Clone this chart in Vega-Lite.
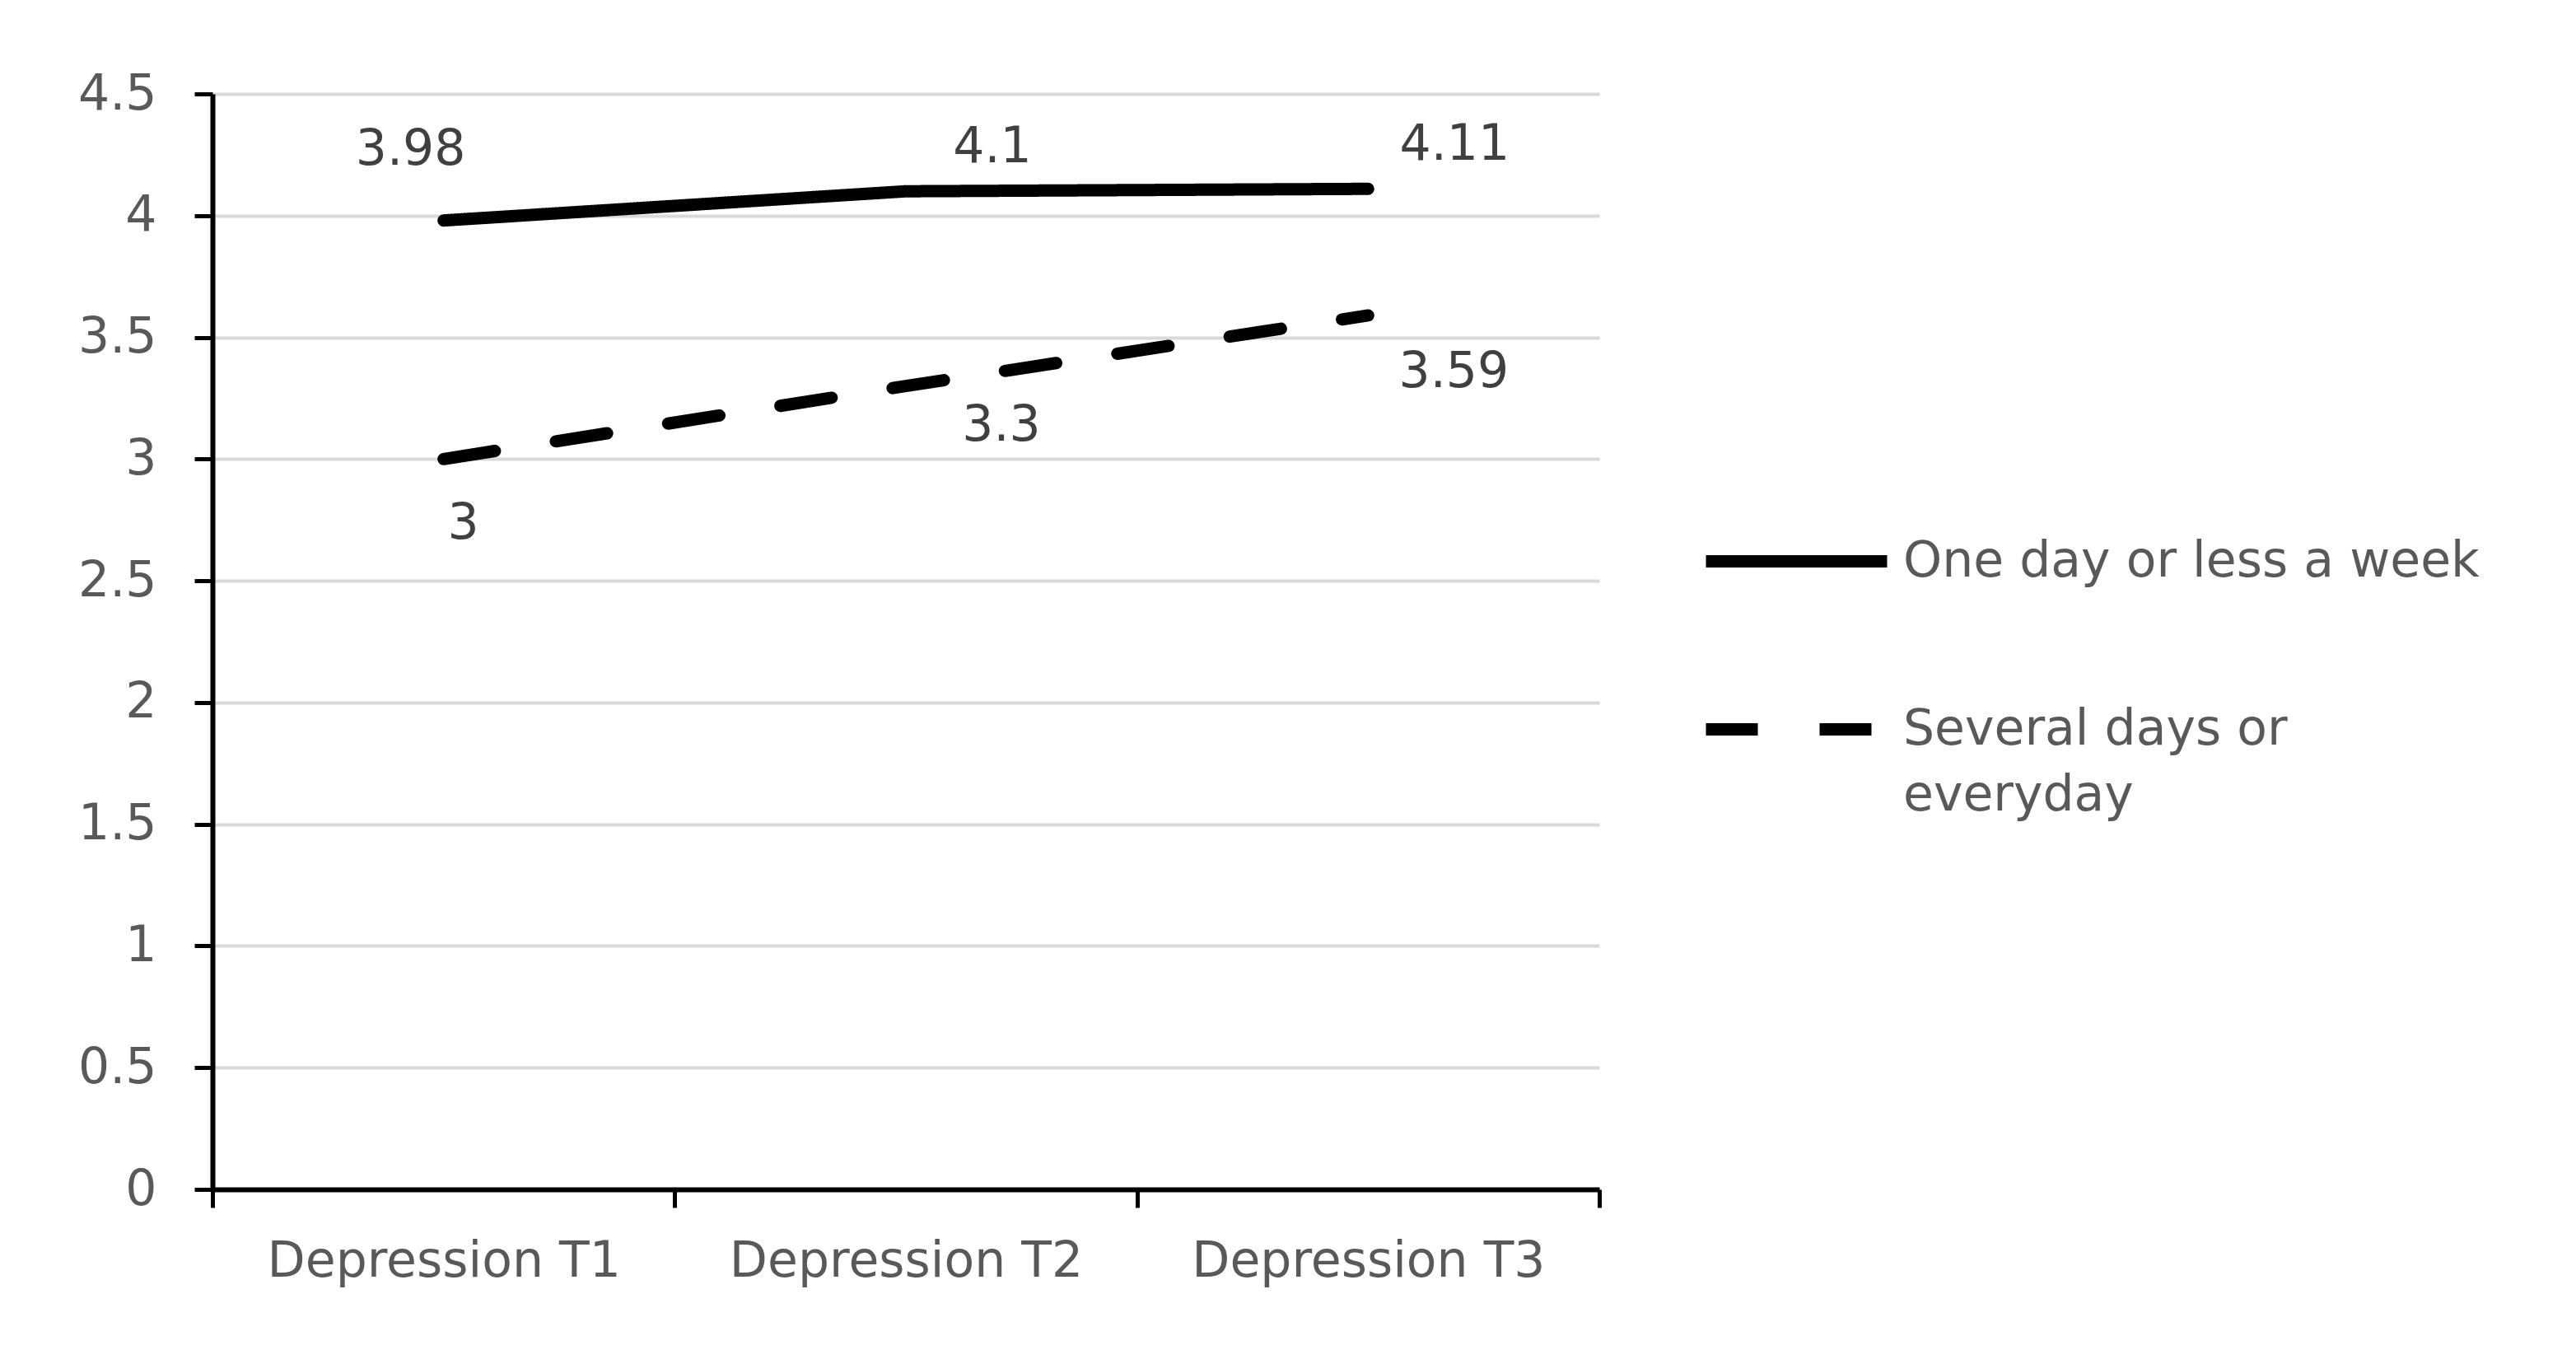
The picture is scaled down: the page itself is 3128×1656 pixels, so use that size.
{
  "$schema": "https://vega.github.io/schema/vega-lite/v6.json",
  "width": 1684,
  "height": 1330,
  "autosize": {"type": "none"},
  "padding": {"left": 258, "top": 114, "right": 1186, "bottom": 212},
  "background": "white",
  "config": {
    "view": {"stroke": null},
    "font": "DejaVu Sans",
    "style": {"guide-label": {"lineHeight": 80}}
  },
  "data": {
    "values": [
      {"time": "Depression T1", "series": "One day or less a week", "value": 3.98},
      {"time": "Depression T2", "series": "One day or less a week", "value": 4.1},
      {"time": "Depression T3", "series": "One day or less a week", "value": 4.11},
      {"time": "Depression T1", "series": "Several days or everyday", "value": 3},
      {"time": "Depression T2", "series": "Several days or everyday", "value": 3.3},
      {"time": "Depression T3", "series": "Several days or everyday", "value": 3.59}
    ]
  },
  "encoding": {
    "x": {
      "field": "time",
      "type": "nominal",
      "sort": ["Depression T1", "Depression T2", "Depression T3"],
      "scale": {"type": "band", "paddingInner": 0, "paddingOuter": 0},
      "axis": {
        "title": null,
        "tickBand": "extent",
        "labelAngle": 0,
        "labelLimit": 0,
        "labelFontSize": 60,
        "labelColor": "#595959",
        "labelFont": "DejaVu Sans",
        "domainColor": "black",
        "domainWidth": 6,
        "tickColor": "black",
        "tickWidth": 5,
        "tickSize": 22,
        "labelPadding": 36,
        "grid": false
      }
    },
    "y": {
      "field": "value",
      "type": "quantitative",
      "scale": {"domain": [0, 4.5], "nice": false, "zero": true},
      "axis": {
        "title": null,
        "values": [0, 0.5, 1, 1.5, 2, 2.5, 3, 3.5, 4, 4.5],
        "format": "~g",
        "labelFontSize": 60,
        "labelColor": "#595959",
        "labelFont": "DejaVu Sans",
        "domainColor": "black",
        "domainWidth": 6,
        "tickColor": "black",
        "tickWidth": 5,
        "tickSize": 22,
        "labelPadding": 46,
        "grid": true,
        "gridColor": "#d9d9d9",
        "gridWidth": 4
      }
    }
  },
  "layer": [
    {
      "mark": {"type": "line", "color": "black", "strokeWidth": 15, "strokeCap": "round"},
      "encoding": {
        "strokeDash": {
          "field": "series",
          "type": "nominal",
          "scale": {
            "domain": ["One day or less a week", "Several days or everyday"],
            "range": [[1, 0], [63, 75]]
          },
          "legend": {
            "title": null,
            "orient": "none",
            "legendX": 1806,
            "legendY": 450,
            "padding": 0,
            "symbolType": "stroke",
            "symbolSize": 48400,
            "symbolStrokeWidth": 15,
            "symbolStrokeColor": "black",
            "labelFontSize": 60,
            "labelColor": "#595959",
            "labelFont": "DejaVu Sans",
            "labelBaseline": "middle",
            "labelOffset": 12,
            "rowPadding": 56,
            "labelLimit": 0,
            "labelExpr": "datum.label == 'Several days or everyday' ? ['Several days or', 'everyday'] : datum.label"
          }
        }
      }
    },
    {
      "transform": [{"filter": "datum.series == 'One day or less a week' && datum.time == 'Depression T1'"}],
      "mark": {"type": "text", "fontSize": 60, "font": "DejaVu Sans", "color": "#404040", "dx": -40, "dy": -86},
      "encoding": {"text": {"field": "value", "type": "quantitative", "format": "~g"}}
    },
    {
      "transform": [{"filter": "datum.series == 'One day or less a week' && datum.time != 'Depression T1'"}],
      "mark": {"type": "text", "fontSize": 60, "font": "DejaVu Sans", "color": "#404040", "dx": 105, "dy": -53},
      "encoding": {"text": {"field": "value", "type": "quantitative", "format": "~g"}}
    },
    {
      "transform": [{"filter": "datum.series == 'Several days or everyday' && datum.time == 'Depression T1'"}],
      "mark": {"type": "text", "fontSize": 60, "font": "DejaVu Sans", "color": "#404040", "dx": 24, "dy": 79},
      "encoding": {"text": {"field": "value", "type": "quantitative", "format": "~g"}}
    },
    {
      "transform": [{"filter": "datum.series == 'Several days or everyday' && datum.time == 'Depression T2'"}],
      "mark": {"type": "text", "fontSize": 60, "font": "DejaVu Sans", "color": "#404040", "dx": 116, "dy": 48},
      "encoding": {"text": {"field": "value", "type": "quantitative", "format": "~g"}}
    },
    {
      "transform": [{"filter": "datum.series == 'Several days or everyday' && datum.time == 'Depression T3'"}],
      "mark": {"type": "text", "fontSize": 60, "font": "DejaVu Sans", "color": "#404040", "dx": 104, "dy": 69},
      "encoding": {"text": {"field": "value", "type": "quantitative", "format": "~g"}}
    }
  ]
}
